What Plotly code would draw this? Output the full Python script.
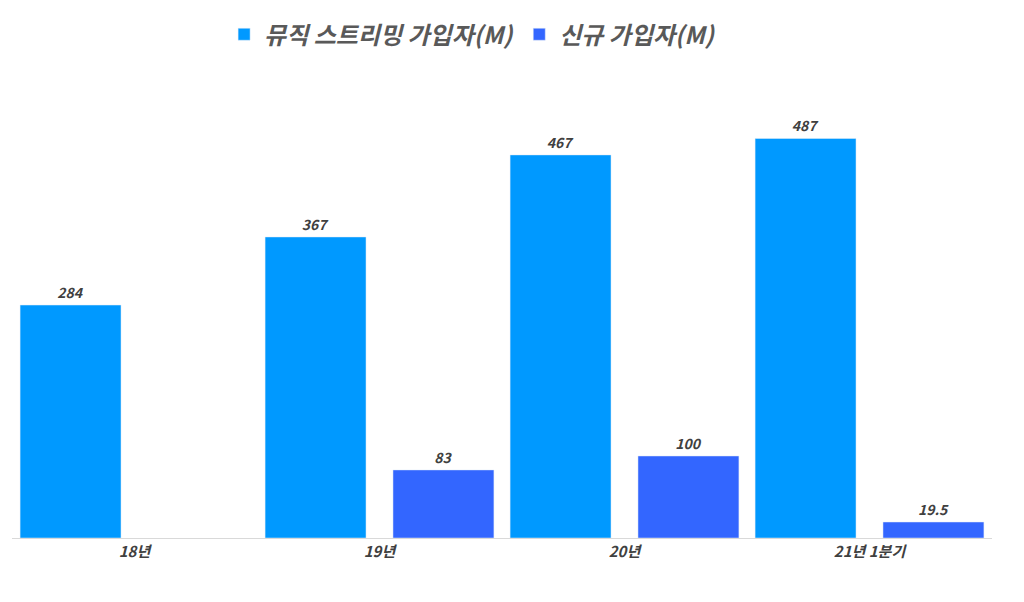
import plotly.graph_objects as go

categories = ["18년", "19년", "20년", "21년 1분기"]
streaming = [284, 367, 467, 487]
new_subs = [None, 83, 100, 19.5]
new_text = ["", "83", "100", "19.5"]

font = "Noto Sans CJK KR"
fig = go.Figure()
fig.add_bar(x=categories, y=streaming, name="뮤직 스트리밍 가입자(M)", marker_color="#0099FF",
            width=0.412, offset=-0.467, text=[str(v) for v in streaming], textposition="outside",
            textfont=dict(family=font, size=14, color="#404040"), texttemplate="<b><i>%{text}</i></b>")
fig.add_bar(x=categories, y=new_subs, name="신규 가입자(M)", marker_color="#3366FF",
            width=0.412, offset=0.055, text=new_text, textposition="outside",
            textfont=dict(family=font, size=14, color="#404040"), texttemplate="<b><i>%{text}</i></b>")
fig.update_layout(
    width=1024, height=602, barmode="overlay", plot_bgcolor="white", paper_bgcolor="white",
    margin=dict(l=4, r=40, t=20, b=72),
    legend=dict(orientation="h", x=0.47, xanchor="center", y=1.04, yanchor="middle",
                font=dict(family=font, size=24, color="#595959"), itemwidth=30),
    xaxis=dict(showline=True, linecolor="#D9D9D9", linewidth=1, ticks="",
               tickfont=dict(family=font, size=15, color="#404040"),
               ticktext=["<b><i>%s</i></b>" % c for c in categories], tickvals=categories),
    yaxis=dict(range=[0, 590], visible=False),
)
fig.for_each_trace(lambda t: t.update(name="<b><i>%s</i></b>" % t.name))
fig.write_html("out.html")
